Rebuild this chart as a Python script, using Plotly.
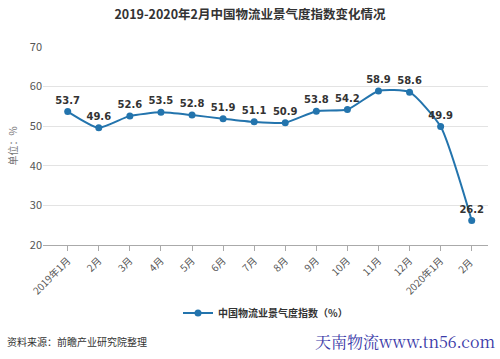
import plotly.graph_objects as go

months = ["2019年1月", "2月", "3月", "4月", "5月", "6月", "7月", "8月", "9月", "10月",
          "11月", "12月", "2020年1月", "2月 "]
values = [53.7, 49.6, 52.6, 53.5, 52.8, 51.9, 51.1, 50.9, 53.8, 54.2, 58.9, 58.6, 49.9, 26.2]
series_name = "<b>中国物流业景气度指数（%）</b>"
y_ticks = [20, 30, 40, 50, 60, 70]

font_family = "Noto Sans CJK SC, Noto Sans, sans-serif"
line_color = "#2374ad"

fig = go.Figure()
fig.add_trace(go.Scatter(
    x=months, y=values, name=series_name,
    mode="lines+markers+text",
    line=dict(color=line_color, width=2, shape="spline", smoothing=0.55),
    marker=dict(color=line_color, size=7),
    text=[f"<b>{v:.1f}</b>" for v in values],
    textposition="top center",
    textfont=dict(size=10, color="#333333", family="DejaVu Sans, sans-serif"),
))

fig.update_layout(
    width=500, height=359,
    margin=dict(l=43, r=12, t=47, b=114, autoexpand=False),
    paper_bgcolor="white", plot_bgcolor="white",
    font=dict(family=font_family, color="#555555"),
    title=dict(text="<b>2019-2020年2月中国物流业景气度指数变化情况</b>",
               x=0.5, xanchor="center", y=0.958, yanchor="middle",
               font=dict(size=12.5, color="#333333")),
    showlegend=True,
    legend=dict(orientation="h", x=0.5, xanchor="center", yref="container",
                y=0.128, yanchor="middle",
                font=dict(size=10, color="#333333")),
    xaxis=dict(type="category", tickangle=-45, tickfont=dict(size=10, color="#555555"),
               showline=True, linecolor="#aaaaaa", ticks="outside", ticklen=5,
               tickcolor="#aaaaaa", showgrid=False, range=[-0.795, len(months) - 0.476],
               automargin=False),
    yaxis=dict(range=[20, 70], tickvals=y_ticks, tickfont=dict(size=11, color="#555555"),
               showgrid=True, gridcolor="#e3e3e3", gridwidth=1, zeroline=False,
               automargin=False,
               title=dict(text="单位：%", font=dict(size=10, color="#777777"), standoff=10)),
    annotations=[
        dict(text="资料来源：前瞻产业研究院整理", xref="paper", yref="paper",
             x=-0.086, y=-0.485, xanchor="left", yanchor="middle", showarrow=False,
             font=dict(size=10, color="#333333")),
        dict(text="天南物流www.tn56.com", xref="paper", yref="paper",
             x=1.02, y=-0.485, xanchor="right", yanchor="middle", showarrow=False,
             font=dict(size=16, color="#3a3aa8", family="Noto Serif CJK SC, serif")),
    ],
)

fig.write_html("out.html", config={"displayModeBar": False},
               post_script="document.body.style.margin='0';")
